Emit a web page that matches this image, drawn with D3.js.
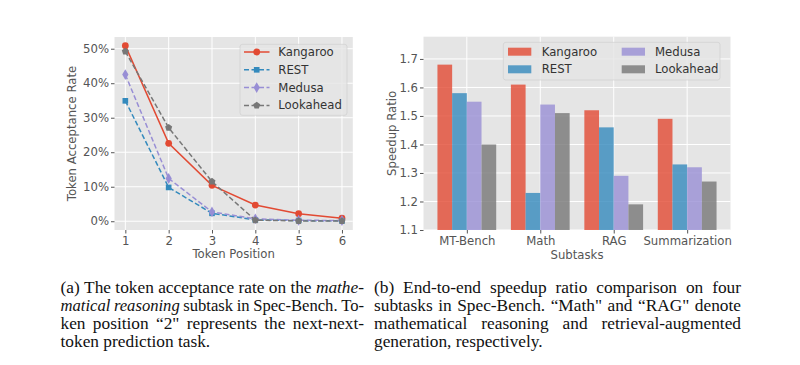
<!DOCTYPE html>
<html><head><meta charset="utf-8">
<script src="https://cdn.jsdelivr.net/npm/d3@7"></script>
<style>html,body{margin:0;padding:0;background:#fff;}svg{display:block;}</style>
</head><body>
<svg id="c" width="800" height="365"></svg>
<script>
// ---------- data ----------
const positions = [1, 2, 3, 4, 5, 6];
const lineSeries = ["Kangaroo", "REST", "Medusa", "Lookahead"];
const kangarooRate = [50.9, 22.6, 10.4, 4.7, 2.2, 0.9];
const restRate     = [34.9, 9.8, 2.3, 0.4, 0.2, 0.1];
const medusaRate   = [42.5, 12.4, 2.7, 0.7, 0.3, 0.2];
const lookaheadRate= [49.2, 27.1, 11.5, 0.3, 0.1, 0.1];
const rateTicks = [0, 10, 20, 30, 40, 50];

const subtasks = ["MT-Bench", "Math", "RAG", "Summarization"];
const kangarooSpeed = [1.68, 1.61, 1.52, 1.49];
const restSpeed     = [1.58, 1.23, 1.46, 1.33];
const medusaSpeed   = [1.55, 1.54, 1.29, 1.32];
const lookaheadSpeed= [1.40, 1.51, 1.19, 1.27];
const speedTicks = [1.1, 1.2, 1.3, 1.4, 1.5, 1.6, 1.7];

const captionA = [
  [["(a)",0],["The",0],["token",0],["acceptance",0],["rate",0],["on",0],["the",0],["mathe-",1]],
  [["matical",1],["reasoning",1],["subtask",0],["in",0],["Spec-Bench.",0],["To-",0]],
  [["ken",0],["position",0],["“2\"",0],["represents",0],["the",0],["next-next-",0]],
  [["token",0],["prediction",0],["task.",0]]
];
const captionB = [
  [["(b)",0],["End-to-end",0],["speedup",0],["ratio",0],["comparison",0],["on",0],["four",0]],
  [["subtasks",0],["in",0],["Spec-Bench.",0],["“Math\"",0],["and",0],["“RAG\"",0],["denote",0]],
  [["mathematical",0],["reasoning",0],["and",0],["retrieval-augmented",0]],
  [["generation,",0],["respectively.",0]]
];

// ---------- style ----------
const colors = {Kangaroo:"#E24A33", REST:"#348ABD", Medusa:"#988ED5", Lookahead:"#777777"};
const BG = "#E5E5E5", TXT = "#555555", FONT = "DejaVu Sans, sans-serif", FS = 11.7;

const svg = d3.select("#c");
svg.append("rect").attr("width",800).attr("height",365).attr("fill","#fff");

// ================= LEFT: line chart =================
const L = {x0:114.5, x1:352.8, y0:37, y1:230};
const xL = d3.scaleLinear().domain([0.75, 6.25]).range([L.x0, L.x1]);
const yL = d3.scaleLinear().domain([-2.54, 53.4]).range([L.y1, L.y0]);
const gL = svg.append("g");
gL.append("rect").attr("x",L.x0).attr("y",L.y0).attr("width",L.x1-L.x0).attr("height",L.y1-L.y0).attr("fill",BG);
gL.selectAll(".gx").data(positions).enter().append("line")
  .attr("x1",d=>xL(d)).attr("x2",d=>xL(d)).attr("y1",L.y0).attr("y2",L.y1)
  .attr("stroke","#fff").attr("stroke-width",1);
gL.selectAll(".gy").data(rateTicks).enter().append("line")
  .attr("y1",d=>yL(d)).attr("y2",d=>yL(d)).attr("x1",L.x0).attr("x2",L.x1)
  .attr("stroke","#fff").attr("stroke-width",1);
const axXL = gL.append("g").attr("transform",`translate(0,${L.y1})`)
  .call(d3.axisBottom(xL).tickValues(positions).tickSize(3.5).tickPadding(3).tickFormat(d3.format("d")));
const axYL = gL.append("g").attr("transform",`translate(${L.x0},0)`)
  .call(d3.axisLeft(yL).tickValues(rateTicks).tickSize(3.5).tickPadding(2).tickFormat(d=>d+"%"));
[axXL, axYL].forEach(a=>{
  a.select(".domain").remove();
  a.selectAll("line").attr("stroke",TXT);
  a.selectAll("text").attr("fill",TXT).attr("font-family",FONT).attr("font-size",FS);
});
gL.append("text").attr("x",(L.x0+L.x1)/2).attr("y",258).attr("text-anchor","middle")
  .attr("fill",TXT).attr("font-family",FONT).attr("font-size",FS).text("Token Position");
gL.append("text").attr("transform",`translate(76,${(L.y0+L.y1)/2}) rotate(-90)`).attr("text-anchor","middle")
  .attr("fill",TXT).attr("font-family",FONT).attr("font-size",FS).text("Token Acceptance Rate");

const seriesData = {Kangaroo:kangarooRate, REST:restRate, Medusa:medusaRate, Lookahead:lookaheadRate};
const dashes = {Kangaroo:null, REST:"5,2.5", Medusa:"5,2.5", Lookahead:"5,2.5"};
function pentagon(r){
  const pts=[];for(let i=0;i<5;i++){const a=-Math.PI/2+i*2*Math.PI/5;pts.push([r*Math.cos(a),r*Math.sin(a)]);}
  return "M"+pts.map(p=>p.join(",")).join("L")+"Z";
}
function markerPath(name){
  if(name==="Lookahead") return pentagon(3.7);
  if(name==="Kangaroo") return d3.symbol(d3.symbolCircle, 36)();
  if(name==="REST") return d3.symbol(d3.symbolSquare, 32)();
  return d3.symbol(d3.symbolDiamond, 34)();
}
const lineGen = d3.line().x((d,i)=>xL(positions[i])).y(d=>yL(d));
lineSeries.forEach(name=>{
  const vals = seriesData[name];
  gL.append("path").attr("d",lineGen(vals)).attr("fill","none").attr("stroke",colors[name])
    .attr("stroke-width",1.5).attr("stroke-dasharray",dashes[name]);
  gL.selectAll(null).data(vals).enter().append("path")
    .attr("transform",(d,i)=>`translate(${xL(positions[i])},${yL(d)})`)
    .attr("d",markerPath(name)).attr("fill",colors[name]);
});
const lgL = gL.append("g");
lgL.append("rect").attr("x",240).attr("y",44.3).attr("width",107).attr("height",71)
  .attr("rx",2.5).attr("fill",BG).attr("fill-opacity",0.8).attr("stroke","#cccccc").attr("stroke-opacity",0.8).attr("stroke-width",0.8);
lineSeries.forEach((name,i)=>{
  const yy = 52 + i*17.8;
  lgL.append("line").attr("x1",244).attr("x2",269.5).attr("y1",yy).attr("y2",yy)
    .attr("stroke",colors[name]).attr("stroke-width",1.5).attr("stroke-dasharray",dashes[name]);
  lgL.append("path").attr("transform",`translate(256.7,${yy})`).attr("d",markerPath(name)).attr("fill",colors[name]);
  lgL.append("text").attr("x",278.3).attr("y",yy).attr("dy","0.35em").attr("fill","#333")
    .attr("font-family",FONT).attr("font-size",FS).text(name);
});

// ================= RIGHT: bar chart =================
const R = {x0:423.5, x1:730.5, y0:36.7, y1:230};
const xR = d3.scaleLinear().domain([-0.59, 3.59]).range([R.x0, R.x1]);
const yR = d3.scaleLinear().domain([1.1, 1.778]).range([R.y1, R.y0]);
const gR = svg.append("g");
gR.append("rect").attr("x",R.x0).attr("y",R.y0).attr("width",R.x1-R.x0).attr("height",R.y1-R.y0).attr("fill",BG);
gR.selectAll(".gx").data(subtasks).enter().append("line")
  .attr("x1",(d,i)=>xR(i)).attr("x2",(d,i)=>xR(i)).attr("y1",R.y0).attr("y2",R.y1)
  .attr("stroke","#fff").attr("stroke-width",1);
gR.selectAll(".gy").data(speedTicks).enter().append("line")
  .attr("y1",d=>yR(d)).attr("y2",d=>yR(d)).attr("x1",R.x0).attr("x2",R.x1)
  .attr("stroke","#fff").attr("stroke-width",1);
const barData = {Kangaroo:kangarooSpeed, REST:restSpeed, Medusa:medusaSpeed, Lookahead:lookaheadSpeed};
const bw = 0.2;
lineSeries.forEach((name,k)=>{
  const off = -0.3 + k*0.2;
  gR.selectAll(null).data(barData[name]).enter().append("rect")
    .attr("x",(d,i)=>xR(i+off-bw/2)).attr("width",xR(bw)-xR(0))
    .attr("y",d=>yR(d)).attr("height",d=>yR(1.1)-yR(d))
    .attr("fill",colors[name]).attr("fill-opacity",0.8);
});
const axXR = gR.append("g").attr("transform",`translate(0,${R.y1})`)
  .call(d3.axisBottom(xR).tickValues([0,1,2,3]).tickSize(3.5).tickPadding(3).tickFormat(i=>subtasks[i]));
const axYR = gR.append("g").attr("transform",`translate(${R.x0},0)`)
  .call(d3.axisLeft(yR).tickValues(speedTicks).tickSize(3.5).tickPadding(2).tickFormat(d3.format(".1f")));
[axXR, axYR].forEach(a=>{
  a.select(".domain").remove();
  a.selectAll("line").attr("stroke",TXT);
  a.selectAll("text").attr("fill",TXT).attr("font-family",FONT).attr("font-size",FS);
});
gR.append("text").attr("x",(R.x0+R.x1)/2).attr("y",259).attr("text-anchor","middle")
  .attr("fill",TXT).attr("font-family",FONT).attr("font-size",FS).text("Subtasks");
gR.append("text").attr("transform",`translate(396,${(R.y0+R.y1)/2}) rotate(-90)`).attr("text-anchor","middle")
  .attr("fill",TXT).attr("font-family",FONT).attr("font-size",FS).text("Speedup Ratio");
const lgR = gR.append("g");
lgR.append("rect").attr("x",503.3).attr("y",42.3).attr("width",216.7).attr("height",37.7)
  .attr("rx",2.5).attr("fill",BG).attr("fill-opacity",0.8).attr("stroke","#cccccc").attr("stroke-opacity",0.8).attr("stroke-width",0.8);
lineSeries.forEach((name,k)=>{
  const col = Math.floor(k/2), row = k%2;
  const px = col===0 ? 508 : 621.7, tx = col===0 ? 541.7 : 655;
  const yy = 51.7 + row*17.6;
  lgR.append("rect").attr("x",px).attr("y",yy-4).attr("width",23.3).attr("height",8)
    .attr("fill",colors[name]).attr("fill-opacity",0.8);
  lgR.append("text").attr("x",tx).attr("y",yy).attr("dy","0.35em").attr("fill","#333")
    .attr("font-family",FONT).attr("font-size",FS).text(name);
});

// ================= captions =================
const CFONT = "Liberation Serif, serif", CFS = 16.2, WIDEN = 1.07;
function caption(lines, x0, x1, y0){
  lines.forEach((words, li)=>{
    const y = y0 + li*18;
    const nodes = words.map(([w,it])=>svg.append("text").attr("y",y).attr("font-family",CFONT)
      .attr("font-size",CFS).attr("font-style",it?"italic":"normal").attr("fill","#111").text(w));
    const widths = nodes.map(n=>n.node().getComputedTextLength()*WIDEN);
    const last = li===lines.length-1;
    let total = d3.sum(widths);
    let gap = last ? CFS*0.27 : (x1-x0-total)/(words.length-1);
    if(!last && gap < CFS*0.22){
      gap = CFS*0.22;
      const s = (x1-x0-gap*(words.length-1))/total;
      widths.forEach((w,i)=>widths[i]=w*s);
    }
    let x = x0;
    nodes.forEach((n,i)=>{
      n.attr("x",x).attr("textLength",widths[i]).attr("lengthAdjust","spacingAndGlyphs");
      x += widths[i]+gap;
    });
  });
}
caption(captionA, 60.5, 364, 292.5);
caption(captionB, 374, 741, 292.5);
</script>
</body></html>
